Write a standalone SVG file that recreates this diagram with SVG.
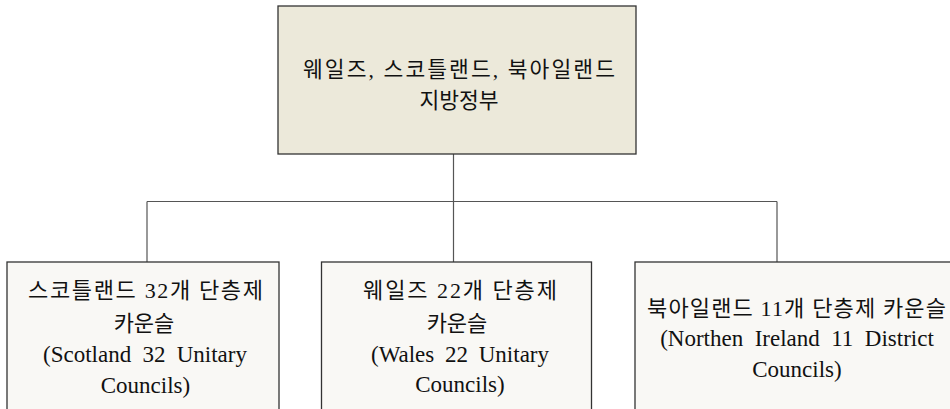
<svg xmlns="http://www.w3.org/2000/svg" width="950" height="409" viewBox="0 0 950 409">
<style>
  .top { fill: #ECE9DA; stroke: #333; stroke-width: 1.3; }
  .box { fill: #F9F8F5; stroke: #333; stroke-width: 1.3; }
  .conn { fill: none; stroke: #555; stroke-width: 1.2; }
  text { font-family: "Liberation Serif", "Noto Sans CJK KR", serif; fill: #111; text-anchor: middle; }
  .kt { font-size: 21.5px; }
  .ko { font-size: 22px; }
  .en { font-size: 23px; }
</style>
<rect width="950" height="409" fill="#fff"/>
<g id="connectors">
  <path class="conn" d="M453.5,154 V201.5 M147,201.5 H777 M147,201.5 V262 M453.5,201.5 V262 M777,201.5 V262"/>
</g>
<g id="root">
  <rect class="top" x="278" y="6" width="358" height="148"/>
  <text class="kt" x="459" y="77" textLength="312" lengthAdjust="spacing">웨일즈, 스코틀랜드, 북아일랜드</text>
  <text class="kt" x="459" y="108">지방정부</text>
</g>
<g id="scotland">
  <rect class="box" x="7" y="262" width="272" height="160"/>
  <text class="ko" x="145.5" y="298" textLength="235" lengthAdjust="spacing">스코틀랜드 32개 단층제</text>
  <text class="ko" x="144" y="331">카운슬</text>
  <text class="en" x="145" y="362" word-spacing="5.5">(Scotland 32 Unitary</text>
  <text class="en" x="145.5" y="393">Councils)</text>
</g>
<g id="wales">
  <rect class="box" x="321.5" y="262" width="270" height="160"/>
  <text class="ko" x="460" y="298" textLength="194" lengthAdjust="spacing">웨일즈 22개 단층제</text>
  <text class="ko" x="457" y="331">카운슬</text>
  <text class="en" x="460" y="362" word-spacing="5">(Wales 22 Unitary</text>
  <text class="en" x="460" y="392">Councils)</text>
</g>
<g id="northern-ireland">
  <rect class="box" x="635" y="262" width="330" height="160"/>
  <text class="ko" x="796.5" y="316" textLength="299" lengthAdjust="spacing">북아일랜드 11개 단층제 카운슬</text>
  <text class="en" x="797" y="346" word-spacing="5.7">(Northen Ireland 11 District</text>
  <text class="en" x="797" y="377">Councils)</text>
</g>
</svg>
